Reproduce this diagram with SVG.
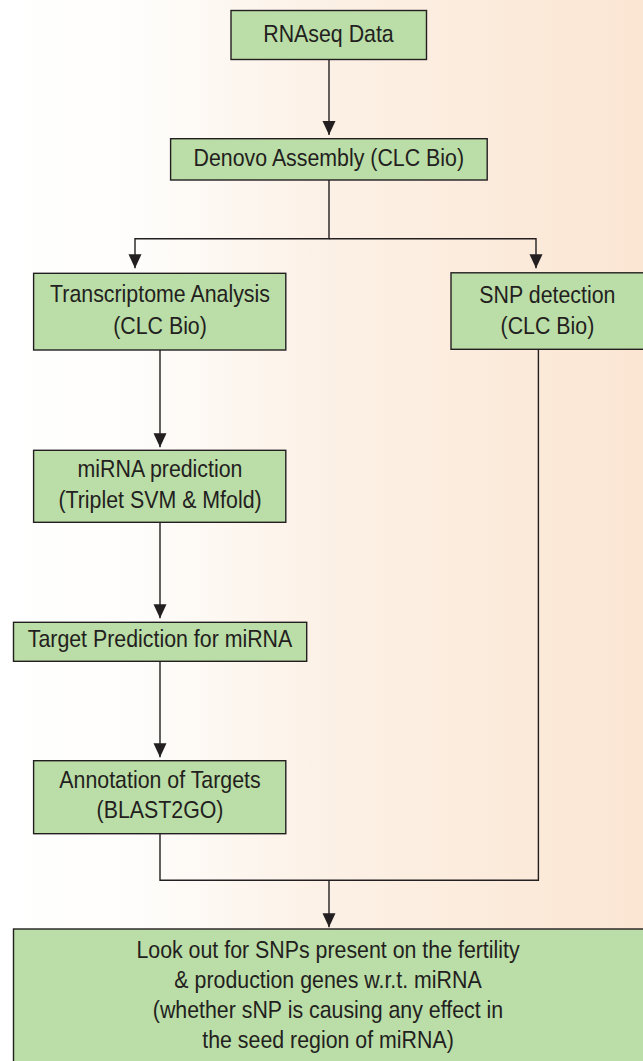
<svg xmlns="http://www.w3.org/2000/svg" width="643" height="1061" viewBox="0 0 643 1061">
<defs>
<linearGradient id="bg" x1="0" y1="0" x2="1" y2="0">
<stop offset="0" stop-color="#ffffff"/>
<stop offset="0.22" stop-color="#fefdfb"/>
<stop offset="0.5" stop-color="#fcf1e6"/>
<stop offset="1" stop-color="#fbe6d3"/>
</linearGradient>
<marker id="ah" markerUnits="userSpaceOnUse" markerWidth="14" markerHeight="14" viewBox="0 0 14 14" refX="14" refY="7" orient="auto">
<path d="M0,0.5 L14,7 L0,13.5 Z" fill="#231f20"/>
</marker>
<style>
.box{fill:#bbdda7;stroke:#231f20;stroke-width:1.4}
.t{font-family:"Liberation Sans",Arial,sans-serif;font-size:24px;fill:#231f20;text-anchor:middle}
.c{fill:none;stroke:#231f20;stroke-width:1.4}
</style>
</defs>
<rect x="0" y="0" width="643" height="1061" fill="url(#bg)"/>
<g id="connectors">
<path class="c" d="M329,59.5 V135" marker-end="url(#ah)"/>
<path class="c" d="M329,180 V238.7 H135 V268.3" marker-end="url(#ah)"/>
<path class="c" d="M329,238.7 H536 V268.3" marker-end="url(#ah)"/>
<path class="c" d="M160,350 V447.3" marker-end="url(#ah)"/>
<path class="c" d="M160,522.3 V618.3" marker-end="url(#ah)"/>
<path class="c" d="M160,661.3 V757.3" marker-end="url(#ah)"/>
<path class="c" d="M160,833.7 V880.3 H538.4 V349.3"/>
<path class="c" d="M329,880.3 V927.3" marker-end="url(#ah)"/>
</g>
<g id="n1">
<rect class="box" x="231" y="10.5" width="195.5" height="49"/>
<text class="t" transform="translate(328.5,42) scale(0.89,1)">RNAseq Data</text>
</g>
<g id="n2">
<rect class="box" x="170.6" y="138.7" width="316.6" height="41.3"/>
<text class="t" transform="translate(328.8,165.7) scale(0.89,1)">Denovo Assembly (CLC Bio)</text>
</g>
<g id="n3">
<rect class="box" x="33.6" y="273.3" width="252.2" height="76.7"/>
<text class="t" transform="translate(160,302) scale(0.89,1)">Transcriptome Analysis</text>
<text class="t" transform="translate(160,333.5) scale(0.89,1)">(CLC Bio)</text>
</g>
<g id="n4">
<rect class="box" x="451" y="272.8" width="200" height="76.5"/>
<text class="t" transform="translate(547.4,302.5) scale(0.89,1)">SNP detection</text>
<text class="t" transform="translate(547.4,334) scale(0.89,1)">(CLC Bio)</text>
</g>
<g id="n5">
<rect class="box" x="33.6" y="450.3" width="252.2" height="72"/>
<text class="t" transform="translate(160,477.3) scale(0.89,1)">miRNA prediction</text>
<text class="t" transform="translate(160,508.3) scale(0.89,1)">(Triplet SVM &amp; Mfold)</text>
</g>
<g id="n6">
<rect class="box" x="13.5" y="622.3" width="293.2" height="39"/>
<text class="t" transform="translate(160,647.3) scale(0.89,1)">Target Prediction for miRNA</text>
</g>
<g id="n7">
<rect class="box" x="33.6" y="760.7" width="252.2" height="73"/>
<text class="t" transform="translate(160,788.3) scale(0.89,1)">Annotation of Targets</text>
<text class="t" transform="translate(160,818.3) scale(0.89,1)">(BLAST2GO)</text>
</g>
<g id="n8">
<rect class="box" x="13.5" y="929" width="640" height="140"/>
<text class="t" transform="translate(328,958.3) scale(0.89,1)">Look out for SNPs present on the fertility</text>
<text class="t" transform="translate(328,988.3) scale(0.89,1)">&amp; production genes w.r.t. miRNA</text>
<text class="t" transform="translate(328,1017.7) scale(0.89,1)">(whether sNP is causing any effect in</text>
<text class="t" transform="translate(328,1048.3) scale(0.89,1)">the seed region of miRNA)</text>
</g>
</svg>
